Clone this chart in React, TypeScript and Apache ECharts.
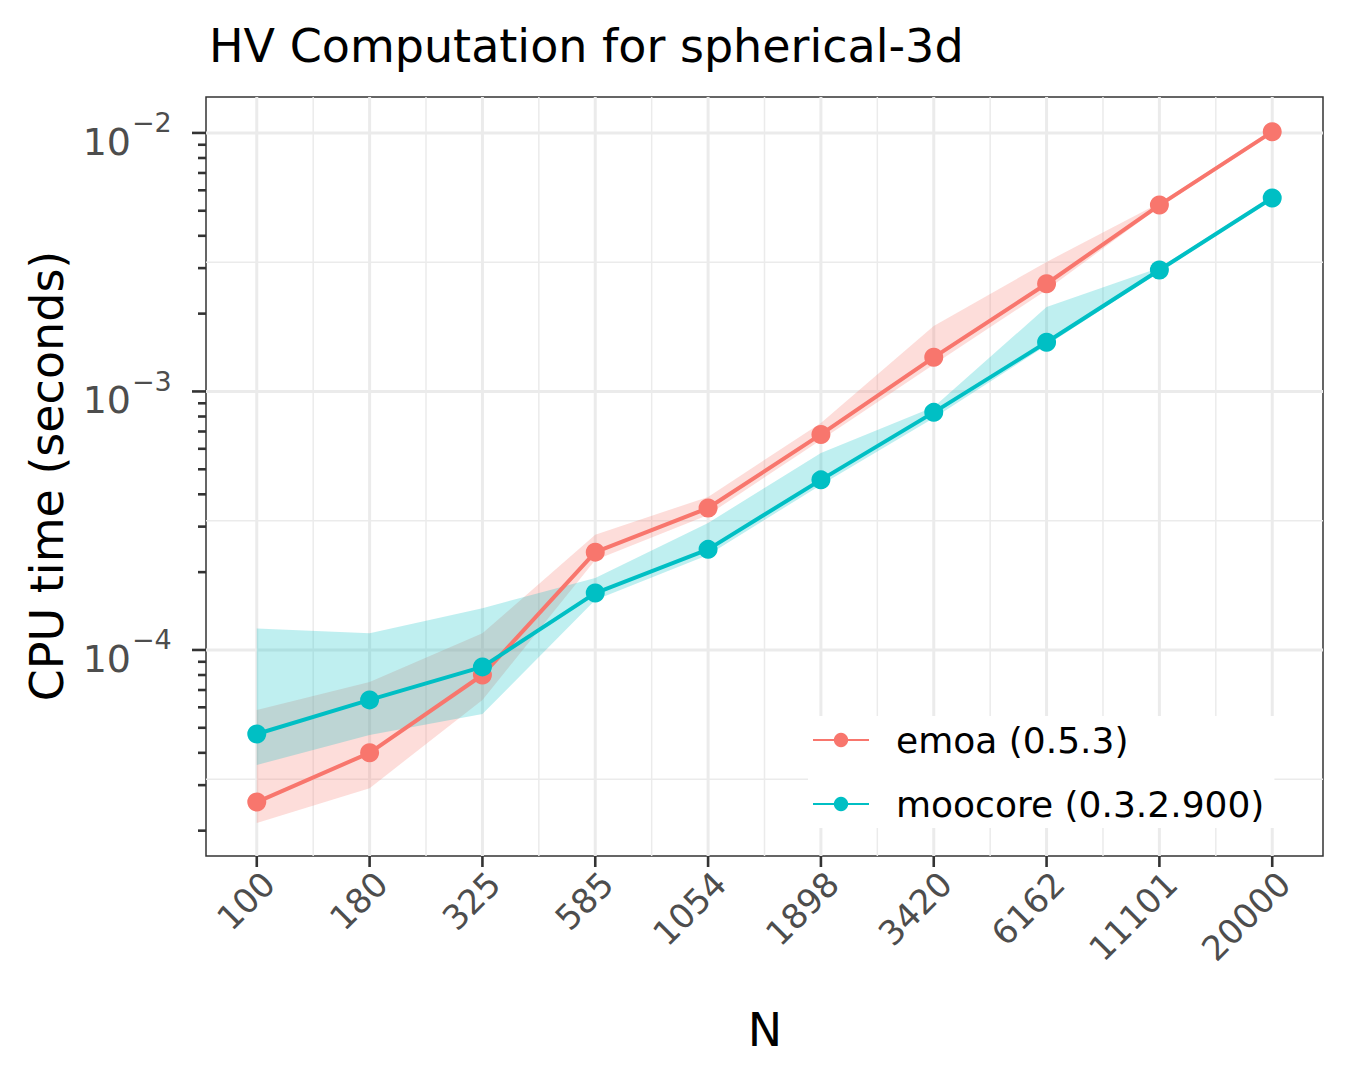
import React, { useEffect, useRef } from 'react';
import * as echarts from 'echarts';

const categories = ['100', '180', '325', '585', '1054', '1898', '3420', '6162', '11101', '20000'];
const emoaMean = [2.58e-5, 4.0e-5, 8.0e-5, 2.39e-4, 3.54e-4, 6.82e-4, 1.355e-3, 2.61e-3, 5.26e-3, 1.01e-2];
const emoaLow = [2.14e-5, 2.92e-5, 6.41e-5, 2.23e-4, 3.33e-4, 6.49e-4, 1.27e-3, 2.47e-3, 5.17e-3, 9.9e-3];
const emoaHigh = [5.86e-5, 7.52e-5, 1.16e-4, 2.79e-4, 3.91e-4, 7.55e-4, 1.79e-3, 3.17e-3, 5.36e-3, 1.03e-2];
const mooMean = [4.73e-5, 6.41e-5, 8.6e-5, 1.66e-4, 2.45e-4, 4.55e-4, 8.3e-4, 1.55e-3, 2.95e-3, 5.6e-3];
const mooLow = [3.59e-5, 4.69e-5, 5.65e-5, 1.56e-4, 2.33e-4, 4.35e-4, 7.89e-4, 1.51e-3, 2.9e-3, 5.5e-3];
const mooHigh = [1.21e-4, 1.16e-4, 1.45e-4, 1.9e-4, 3.1e-4, 5.78e-4, 8.71e-4, 2.12e-3, 3.01e-3, 5.7e-3];
const yMajor = [-4, -3, -2];
const yMinor = [-4.5, -3.5, -2.5];

const Y_MIN = -4.797;
const Y_MAX = -1.861;
const X_MIN = -0.45;
const X_MAX = 9.45;
const EMOA = '#F8766D';
const MOO = '#00BFC4';
const FONT = 'DejaVu Sans';

const lg = (v: number) => Math.log10(v);

function bandSeries(name: string, low: number[], high: number[], color: string): any {
  return {
    type: 'custom',
    name: name + '-band',
    z: 1,
    data: [[0, Y_MIN]],
    renderItem: (_p: any, api: any) => {
      const pts: number[][] = [];
      high.forEach((v, i) => pts.push(api.coord([i, lg(v)])));
      for (let i = low.length - 1; i >= 0; i--) pts.push(api.coord([i, lg(low[i])]));
      return { type: 'polygon', shape: { points: pts }, style: { fill: color, opacity: 0.25 } };
    },
  };
}

const decorSeries: any = {
  type: 'custom',
  name: 'decor',
  z: 0,
  clip: false,
  silent: true,
  data: [[0, Y_MIN]],
  renderItem: (_p: any, api: any) => {
    const ch: any[] = [];
    const x0 = api.coord([X_MIN, Y_MIN])[0];
    const x1 = api.coord([X_MAX, Y_MIN])[0];
    const yb = api.coord([X_MIN, Y_MIN])[1];
    const yt = api.coord([X_MIN, Y_MAX])[1];
    const hline = (v: number, w: number) => {
      const y = api.coord([0, v])[1];
      ch.push({ type: 'line', shape: { x1: x0, y1: y, x2: x1, y2: y }, style: { stroke: '#EBEBEB', lineWidth: w } });
    };
    const vline = (v: number, w: number) => {
      const x = api.coord([v, 0])[0];
      ch.push({ type: 'line', shape: { x1: x, y1: yt, x2: x, y2: yb }, style: { stroke: '#EBEBEB', lineWidth: w } });
    };
    yMinor.forEach((v) => hline(v, 1.5));
    for (let i = 0; i < categories.length - 1; i++) vline(i + 0.5, 1.5);
    yMajor.forEach((v) => hline(v, 3));
    categories.forEach((_c, i) => vline(i, 3));
    // log ticks on the left
    for (let k = -5; k <= -2; k++) {
      for (let m = 1; m <= 9; m++) {
        const v = lg(m * Math.pow(10, k));
        if (v < Y_MIN || v > Y_MAX) continue;
        const y = api.coord([0, v])[1];
        const len = m === 1 ? 14 : 8;
        ch.push({ type: 'line', shape: { x1: x0 - len, y1: y, x2: x0, y2: y }, style: { stroke: '#333333', lineWidth: 2.6 } });
      }
    }
    yMajor.forEach((v) => {
      const y = api.coord([0, v])[1];
      ch.push({ type: 'text', x: 131, y: y + 9, style: { text: '10', fill: '#4D4D4D', font: `38px "${FONT}"`, align: 'right', verticalAlign: 'middle' } });
      ch.push({ type: 'text', x: 132, y: y - 10, style: { text: '\u2212' + String(-v), fill: '#4D4D4D', font: `27px "${FONT}"`, align: 'left', verticalAlign: 'middle' } });
    });
    categories.forEach((c, i) => {
      const x = api.coord([i, 0])[0];
      ch.push({ type: 'line', shape: { x1: x, y1: yb, x2: x, y2: yb + 11 }, style: { stroke: '#333333', lineWidth: 2.6 } });
      ch.push({
        type: 'text', x: x + 12, y: yb + 22, rotation: Math.PI / 4,
        style: { text: c, fill: '#4D4D4D', font: `34px "${FONT}"`, align: 'right', verticalAlign: 'middle' },
      });
    });
    return { type: 'group', children: ch };
  },
};

function lineSeries(name: string, vals: number[], color: string): any {
  return {
    type: 'line',
    name,
    z: 3,
    data: vals.map((v, i) => [i, lg(v)]),
    symbol: 'circle',
    symbolSize: 19,
    lineStyle: { color, width: 4 },
    itemStyle: { color },
  };
}

export default function App() {
  const ref = useRef<HTMLDivElement | null>(null);
  useEffect(() => {
    if (!ref.current) return;
    const chart = echarts.init(ref.current, undefined, { renderer: 'svg' });
    chart.setOption({
      animation: false,
      backgroundColor: '#ffffff',
      textStyle: { fontFamily: FONT },
      grid: { left: 206, top: 97, width: 1117, height: 759, show: true, borderColor: '#333333', borderWidth: 1.5, backgroundColor: 'transparent' },
      title: { text: 'HV Computation for spherical-3d', left: 204, top: 18, textStyle: { fontSize: 46, fontWeight: 'normal', color: '#000', fontFamily: FONT } },
      xAxis: { type: 'value', min: X_MIN, max: X_MAX, show: false, splitLine: { show: false } },
      yAxis: { type: 'value', min: Y_MIN, max: Y_MAX, show: false, splitLine: { show: false } },
      legend: {
        data: ['emoa (0.5.3)', 'moocore (0.3.2.900)'],
        orient: 'vertical', left: 808, top: 716, itemWidth: 56, itemHeight: 18, itemGap: 28,
        backgroundColor: '#ffffff', padding: [6, 10, 6, 4],
        textStyle: { fontSize: 36, color: '#000', fontFamily: FONT, padding: [0, 0, 0, 22] },
      },
      graphic: [
        { type: 'text', x: 765, y: 1030, style: { text: 'N', fill: '#000', font: `46px "${FONT}"`, align: 'center', verticalAlign: 'middle' } },
        { type: 'text', x: 47, y: 476, rotation: Math.PI / 2, style: { text: 'CPU time (seconds)', fill: '#000', font: `46px "${FONT}"`, align: 'center', verticalAlign: 'middle' } },
      ],
      series: [
        decorSeries,
        bandSeries('emoa', emoaLow, emoaHigh, EMOA),
        bandSeries('moocore', mooLow, mooHigh, MOO),
        lineSeries('emoa (0.5.3)', emoaMean, EMOA),
        lineSeries('moocore (0.3.2.900)', mooMean, MOO),
      ],
    });
    return () => chart.dispose();
  }, []);
  return <div ref={ref} style={{ position: 'absolute', left: 0, top: 0, width: 1350, height: 1080 }} />;
}
